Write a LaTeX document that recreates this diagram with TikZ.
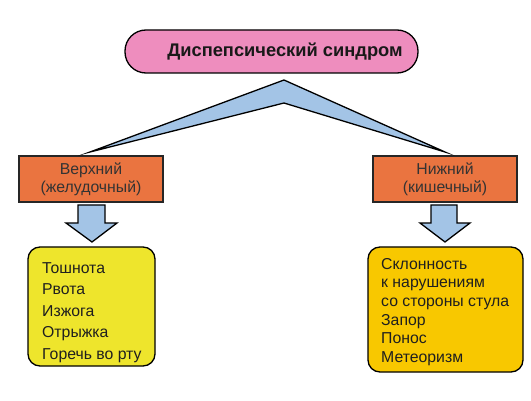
\documentclass[tikz,border=0pt]{standalone}
\usepackage{fontspec}
\setmainfont{Liberation Sans}
\definecolor{pinkfill}{HTML}{EE8DBE}
\definecolor{bluefill}{HTML}{A3C4E6}
\definecolor{orangefill}{HTML}{EA7440}
\definecolor{yellowA}{HTML}{EEE52C}
\definecolor{yellowB}{HTML}{F8C800}
\definecolor{textgray}{HTML}{333333}
\begin{document}
\begin{tikzpicture}[x=1pt,y=-1pt,
  titlebox/.style={draw=black,line width=1.3pt,fill=pinkfill,rounded corners=21pt,minimum width=293pt,minimum height=43pt,inner sep=0pt},
  titletext/.style={font=\bfseries\fontsize{18.3}{21}\selectfont,text=black!90,inner sep=0pt},
  levelbox/.style={draw=black!85,line width=1.3pt,fill=orangefill,minimum width=144pt,minimum height=46pt,align=center,font=\fontsize{15.8}{18}\selectfont,text=textgray,inner sep=0pt},
  listbox/.style={draw=black,line width=1.3pt,rounded corners=12pt},
  listtext/.style={anchor=north west,align=left,text=black!88,inner sep=0pt},
  downarrow/.style={draw=black,line width=1.3pt,fill=bluefill,line join=miter}]
\useasboundingbox (0,0) rectangle (531,401);
\node[titlebox] (title) at (271.5,51.5) {};
\node[titletext] (titlelabel) at (285,51.5) {Диспепсический синдром};
\node[levelbox] (upper) at (91,179) {Верхний\\(желудочный)};
\node[levelbox] (lower) at (445,179) {Нижний\\(кишечный)};
% chevron
\coordinate (apex) at (284,80);
\coordinate (inner) at (284,103);
\coordinate (ltip) at (90,152);
\coordinate (rtip) at (445,152);
\draw[line width=1.3pt,fill=bluefill,line join=miter,miter limit=20] (ltip) -- (apex) -- (rtip) -- (inner) -- cycle;
% list boxes
\draw[listbox,fill=yellowA] (28,247) rectangle (155,366);
\node[listtext,font=\fontsize{15.8}{21.5}\selectfont] (ulist) at (42,262)
  {Тошнота\\Рвота\\Изжога\\Отрыжка\\Горечь во рту};
\draw[listbox,fill=yellowB] (368,247) rectangle (523,372);
\node[listtext,font=\fontsize{15.8}{18.6}\selectfont] (llist) at (381,258)
  {Склонность\\к нарушениям\\со стороны стула\\Запор\\Понос\\Метеоризм};
% arrows
\draw[downarrow] (78,205) -- (105,205) -- (105,223) -- (117,223) -- (92,242) -- (66,223) -- (78,223) -- cycle;
\draw[downarrow] (431,205) -- (457,205) -- (457,223) -- (470,223) -- (445,242) -- (420,223) -- (431,223) -- cycle;
\end{tikzpicture}
\end{document}
